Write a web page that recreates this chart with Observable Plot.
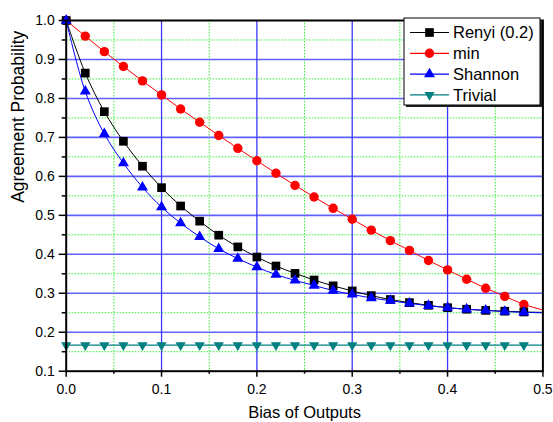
<!DOCTYPE html>
<html>
<head>
<meta charset="utf-8">
<script src="https://cdn.jsdelivr.net/npm/d3@7"></script>
<script src="https://cdn.jsdelivr.net/npm/@observablehq/plot@0.6"></script>
<style>
  body { margin: 0; background: white; }
  #wrap { position: relative; width: 553px; height: 422px; font-family: "Liberation Sans", Arial, sans-serif; }
  #legend { position: absolute; left: 403px; top: 17px; }
</style>
</head>
<body>
<div id="wrap"></div>
<script>
// ---- data ----
const bias = [0, 0.02, 0.04, 0.06, 0.08, 0.10, 0.12, 0.14, 0.16, 0.18, 0.20, 0.22, 0.24,
              0.26, 0.28, 0.30, 0.32, 0.34, 0.36, 0.38, 0.40, 0.42, 0.44, 0.46, 0.48];
const renyi = [1.0, 0.865, 0.766, 0.690, 0.626, 0.571, 0.524, 0.485, 0.449, 0.419, 0.393, 0.370, 0.351,
               0.334, 0.319, 0.306, 0.294, 0.284, 0.276, 0.269, 0.263, 0.259, 0.256, 0.254, 0.252];
const minEnt = [1.0, 0.960, 0.920, 0.882, 0.845, 0.809, 0.773, 0.739, 0.705, 0.672, 0.640, 0.608, 0.577,
                0.547, 0.518, 0.490, 0.462, 0.435, 0.410, 0.384, 0.360, 0.336, 0.313, 0.292, 0.271];
const shannon = [1.0, 0.818, 0.709, 0.634, 0.572, 0.521, 0.480, 0.445, 0.414, 0.389, 0.367, 0.348, 0.333,
                 0.320, 0.307, 0.297, 0.288, 0.281, 0.274, 0.268, 0.263, 0.259, 0.256, 0.253, 0.251];
const trivial = [0.167, 0.167, 0.167, 0.167, 0.167, 0.167, 0.167, 0.167, 0.167, 0.167, 0.167, 0.167, 0.167,
                 0.167, 0.167, 0.167, 0.167, 0.167, 0.167, 0.167, 0.167, 0.167, 0.167, 0.167, 0.167];
// line end points at bias = 0.5 (no marker there)
const endBias = 0.5;
const renyiEnd = 0.251, minEnd = 0.257, shannonEnd = 0.250, trivialEnd = 0.167;

const xTicks = [0, 0.1, 0.2, 0.3, 0.4, 0.5];
const xMinor = [0.05, 0.15, 0.25, 0.35, 0.45];
const yTicks = [0.1, 0.2, 0.3, 0.4, 0.5, 0.6, 0.7, 0.8, 0.9, 1.0];
const yMinor = [0.15, 0.25, 0.35, 0.45, 0.55, 0.65, 0.75, 0.85, 0.95];

const series = [
  {name: "Renyi (0.2)", values: renyi, end: renyiEnd, color: "#000000", symbol: "square", r: 4.9, rotate: 0, curve: "catmull-rom"},
  {name: "min", values: minEnt, end: minEnd, color: "#ff0000", symbol: "circle", r: 4.7, rotate: 0, curve: "linear"},
  {name: "Shannon", values: shannon, end: shannonEnd, color: "#0000ff", symbol: "triangle", r: 4.1, rotate: 0, curve: "catmull-rom"},
  {name: "Trivial", values: trivial, end: trivialEnd, color: "#008080", symbol: "triangle", r: 3.8, rotate: 180, curve: "linear"}
];

const pts = s => bias.map((b, i) => ({x: b, y: s.values[i]}));
const linePts = s => [...pts(s), {x: endBias, y: s.end}];

const lineMarks = [];
const dotMarks = [];
for (const s of [series[3], series[1], series[0], series[2]]) {
  lineMarks.push(Plot.line(linePts(s), {x: "x", y: "y", stroke: s.color, strokeWidth: s.name === "Trivial" ? 1.4 : 1, curve: s.curve}));
  dotMarks.push(Plot.dot(pts(s), {x: "x", y: "y", symbol: () => s.symbol, r: s.r, fill: s.color, stroke: "none", rotate: s.rotate}));
}

const chart = Plot.plot({
  width: 553,
  height: 422,
  marginLeft: 65.7,
  marginRight: 10.6,
  marginTop: 20,
  marginBottom: 51.3,
  style: {fontFamily: "'Liberation Sans', Arial, sans-serif", fontSize: "14px", color: "black", background: "white", overflow: "visible"},
  x: {domain: [0, 0.5]},
  y: {domain: [0.1, 1.0]},
  symbol: {type: "identity"},
  marks: [
    Plot.ruleY(yMinor, {stroke: "#33ee33", strokeWidth: 1, strokeDasharray: "1.5,1.5"}),
    Plot.ruleX(xMinor, {stroke: "#33ee33", strokeWidth: 1, strokeDasharray: "1.5,1.5"}),
    Plot.ruleY(yTicks.slice(1, -1), {stroke: "#6060ff", strokeWidth: 1.6}),
    Plot.ruleX(xTicks.slice(1, -1), {stroke: "#3a3aff", strokeWidth: 1.3}),
    ...lineMarks,
    ...dotMarks,
    Plot.axisX({ticks: xTicks, tickFormat: d => d.toFixed(1), tickSize: 6, tickPadding: 7, label: null, fontSize: 14, strokeWidth: 1.5}),
    Plot.axisX({ticks: xMinor, tickFormat: () => "", tickSize: 3, label: null, strokeWidth: 1.5}),
    Plot.axisY({ticks: yTicks, tickFormat: d => d.toFixed(1), tickSize: 7, tickPadding: 4.5, label: null, fontSize: 14, strokeWidth: 1.5}),
    Plot.axisY({ticks: yMinor, tickFormat: () => "", tickSize: 4, label: null, strokeWidth: 1.5}),
    Plot.frame({stroke: "black", strokeWidth: 2}),
    Plot.text(["Bias of Outputs"], {frameAnchor: "bottom", dy: 47, fontSize: 16.5}),
    Plot.text(["Agreement Probability"], {frameAnchor: "left", dx: -48, dy: 7, rotate: -90, fontSize: 17.5})
  ]
});
document.getElementById("wrap").appendChild(chart);

// ---- legend ----
const lg = d3.select("#wrap").append("svg").attr("id", "legend").attr("width", 142).attr("height", 94);
lg.append("rect").attr("x", 3).attr("y", 3).attr("width", 136).attr("height", 87).attr("fill", "#222");
lg.append("rect").attr("x", 1).attr("y", 1).attr("width", 136).attr("height", 87).attr("fill", "white").attr("stroke", "black").attr("stroke-width", 1);
const symMap = {square: d3.symbolSquare, circle: d3.symbolCircle, triangle: d3.symbolTriangle};
series.forEach((s, i) => {
  const cy = 15.5 + i * 20.8;
  const g = lg.append("g").attr("transform", `translate(0,${cy})`);
  g.append("line").attr("x1", 7).attr("x2", 46).attr("y1", 0).attr("y2", 0).attr("stroke", s.color).attr("stroke-width", 1.2);
  g.append("path").attr("d", d3.symbol(symMap[s.symbol], Math.PI * s.r * s.r)())
    .attr("transform", `translate(26.5,0) rotate(${s.rotate})`).attr("fill", s.color);
  g.append("text").attr("x", 50).attr("y", 0).attr("dy", "0.36em")
    .attr("font-family", "'Liberation Sans', Arial, sans-serif").attr("font-size", 16.5).text(s.name);
});
</script>
</body>
</html>
